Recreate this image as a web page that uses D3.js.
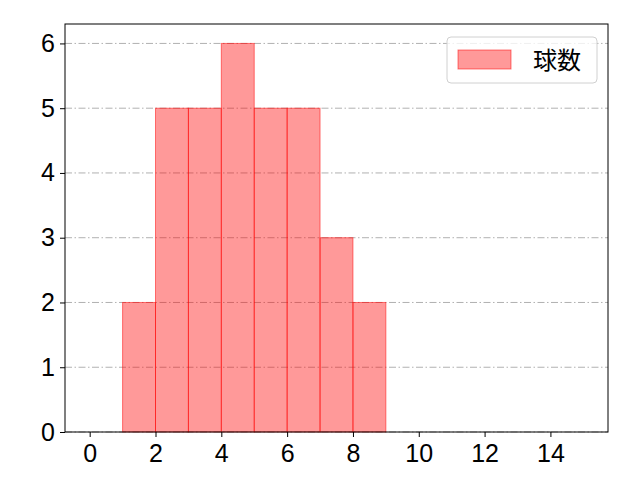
<!DOCTYPE html>
<html>
<head>
<meta charset="utf-8">
<script src="https://cdn.jsdelivr.net/npm/d3@7"></script>
<style>
  body { margin: 0; background: #fff; }
  text { font-family: "Noto Sans CJK JP", "DejaVu Sans", sans-serif; }
</style>
</head>
<body>
<div id="chart"></div>
<script>
// histogram bins (left edge, right edge) and counts
const binStarts = [1, 2, 3, 4, 5, 6, 7, 8];
const binEnds = [2, 3, 4, 5, 6, 7, 8, 9];
const counts = [2, 5, 5, 6, 5, 5, 3, 2];
const xTicks = [0, 2, 4, 6, 8, 10, 12, 14];
const yTicks = [0, 1, 2, 3, 4, 5, 6];
const seriesName = "球数";

const width = 640, height = 480;
const margin = { top: 24, right: 32, bottom: 48, left: 65 };

const svg = d3.select("#chart").append("svg")
  .attr("width", width)
  .attr("height", height);

const x = d3.scaleLinear().domain([-0.75, 15.75]).range([margin.left, width - margin.right]);
const y = d3.scaleLinear().domain([0, 6.3]).range([height - margin.bottom, margin.top]);

// grid
svg.append("g")
  .selectAll("line")
  .data(yTicks)
  .join("line")
  .attr("x1", margin.left)
  .attr("x2", width - margin.right)
  .attr("y1", d => y(d))
  .attr("y2", d => y(d))
  .attr("stroke", "#a8a8a8")
  .attr("stroke-width", 0.9)
  .attr("stroke-dasharray", "7,2.5,1.5,2.5");

// bars
svg.append("g")
  .selectAll("rect")
  .data(counts)
  .join("rect")
  .attr("x", (d, i) => x(binStarts[i]))
  .attr("width", (d, i) => x(binEnds[i]) - x(binStarts[i]))
  .attr("y", d => y(d))
  .attr("height", d => y(0) - y(d))
  .attr("fill", "red")
  .attr("fill-opacity", 0.4)
  .attr("stroke", "red")
  .attr("stroke-opacity", 0.5)
  .attr("stroke-width", 1);

// axes
const xAxis = svg.append("g")
  .attr("transform", `translate(0,${height - margin.bottom})`)
  .call(d3.axisBottom(x).tickValues(xTicks).tickFormat(d3.format("d")).tickSize(5).tickPadding(7));
const yAxis = svg.append("g")
  .attr("transform", `translate(${margin.left},0)`)
  .call(d3.axisLeft(y).tickValues(yTicks).tickFormat(d3.format("d")).tickSize(5).tickPadding(5));
[xAxis, yAxis].forEach(a => {
  a.select(".domain").remove();
  a.selectAll("line").attr("stroke", "#000").attr("stroke-width", 1);
  a.selectAll("text").attr("font-size", 25).attr("fill", "#000")
    .style("font-family", "'Liberation Sans', sans-serif");
});

// frame
svg.append("rect")
  .attr("x", margin.left)
  .attr("y", margin.top)
  .attr("width", width - margin.left - margin.right)
  .attr("height", height - margin.top - margin.bottom)
  .attr("fill", "none")
  .attr("stroke", "#000")
  .attr("stroke-width", 1);

// legend
const lg = svg.append("g").attr("transform", "translate(447,37)");
lg.append("rect")
  .attr("width", 150).attr("height", 46)
  .attr("rx", 4)
  .attr("fill", "#fff").attr("fill-opacity", 0.8)
  .attr("stroke", "#d0d0d0");
lg.append("rect")
  .attr("x", 11).attr("y", 13).attr("width", 53).attr("height", 19)
  .attr("fill", "red").attr("fill-opacity", 0.4)
  .attr("stroke", "red").attr("stroke-opacity", 0.5);
lg.append("text")
  .attr("x", 86).attr("y", 32)
  .attr("font-size", 24)
  .attr("fill", "#000")
  .text(seriesName);
</script>
</body>
</html>
